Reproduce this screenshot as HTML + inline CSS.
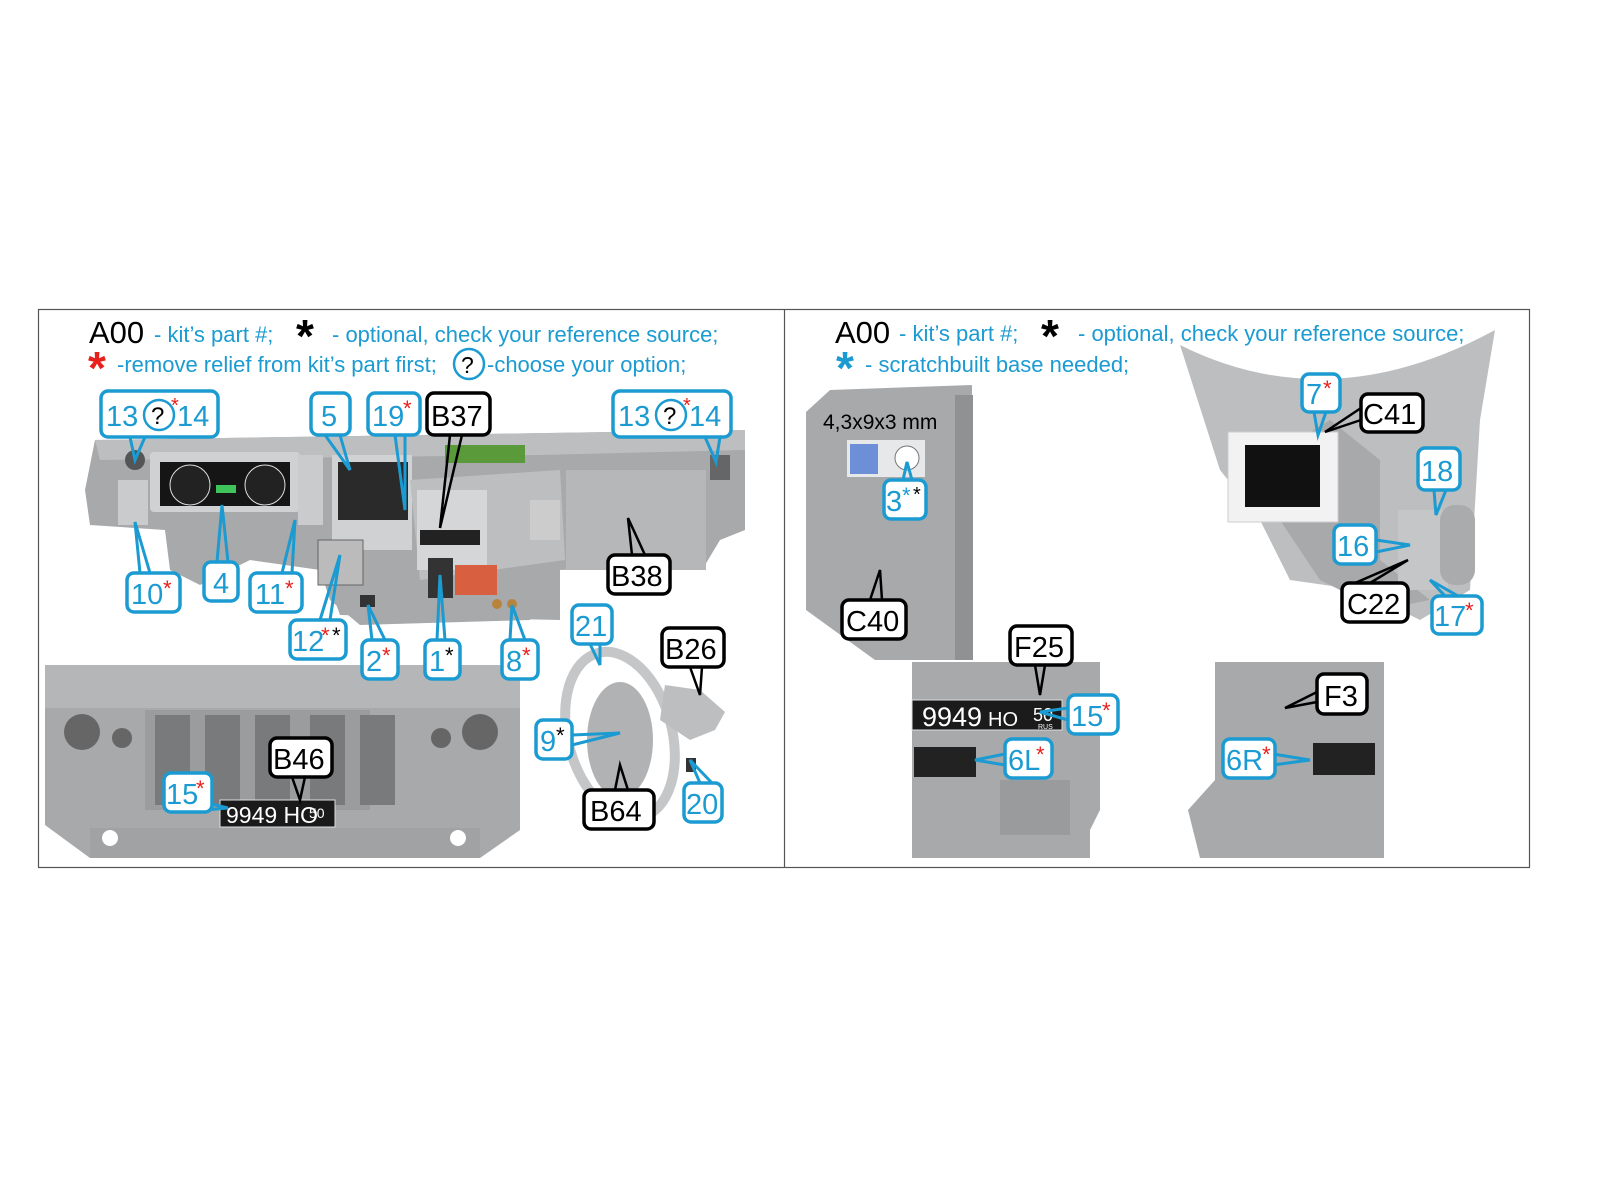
<!DOCTYPE html>
<html><head><meta charset="utf-8"><style>
html,body{margin:0;padding:0;background:#fff;}
svg{display:block;}
text{font-family:"Liberation Sans",sans-serif;}
.bl{fill:#fff;stroke:#1b9bd1;stroke-width:3.5}
.bk{fill:#fff;stroke:#000;stroke-width:3.5}
.tb{fill:#1b9bd1;font-size:29px}
.tk{fill:#000;font-size:29px}
.lb{stroke:#1b9bd1;stroke-width:3;fill:none}
.lk{stroke:#000;stroke-width:2.5;fill:none}
.r{fill:#e8201c}
.g{fill:#a7a9ab}
.g2{fill:#bcbec0}
.g3{fill:#8e9092}
</style></head><body>
<svg width="1600" height="1200" viewBox="0 0 1600 1200" xmlns="http://www.w3.org/2000/svg">
<!-- frame -->
<rect x="38.5" y="309.5" width="1491" height="558" fill="none" stroke="#555" stroke-width="1.2"/>
<line x1="784.5" y1="309" x2="784.5" y2="868" stroke="#555" stroke-width="1.2"/>

<!-- LEFT: dashboard -->
<polygon class="g" points="95,440 745,430 745,530 720,540 705,565 560,570 540,600 530,620 360,625 330,600 320,570 250,560 200,585 170,570 165,530 90,525 85,490"/>
<polygon class="g2" points="95,440 745,430 745,450 540,455 100,460"/>
<polygon class="g" points="320,560 560,560 560,620 340,615"/>
<rect x="150" y="452" width="150" height="60" rx="4" fill="#cfd1d3"/>
<rect x="160" y="462" width="130" height="44" fill="#151515"/>
<circle cx="190" cy="485" r="20" fill="#222" stroke="#ddd"/>
<circle cx="265" cy="485" r="20" fill="#222" stroke="#ddd"/>
<rect x="216" y="485" width="20" height="8" fill="#3ec45a"/>
<rect x="298" y="455" width="25" height="70" fill="#c9cbcd"/>
<rect x="118" y="480" width="30" height="45" fill="#c9cbcd"/>
<circle cx="135" cy="460" r="10" fill="#555"/>
<rect x="332" y="455" width="80" height="90" fill="#d0d2d4"/>
<rect x="338" y="462" width="70" height="60" fill="#2a2a2a"/>
<rect x="332" y="520" width="80" height="30" fill="#cfd1d3"/>
<polygon class="g2" points="410,480 560,470 565,560 420,580"/>
<rect x="417" y="490" width="70" height="80" fill="#d4d6d8"/>
<rect x="420" y="530" width="60" height="15" fill="#222"/>
<rect x="445" y="445" width="80" height="18" fill="#5a9a3a"/>
<rect x="566" y="470" width="140" height="100" fill="#b5b7b9"/>
<rect x="530" y="500" width="30" height="40" fill="#ccc"/>
<rect x="318" y="540" width="45" height="45" fill="#bbb" stroke="#666"/>
<rect x="428" y="558" width="25" height="40" fill="#333"/>
<rect x="455" y="565" width="42" height="30" fill="#d86040"/>
<rect x="360" y="595" width="15" height="12" fill="#333"/>
<circle cx="497" cy="604" r="5" fill="#b8843c"/><circle cx="512" cy="604" r="5" fill="#b8843c"/>
<rect x="710" y="455" width="20" height="25" fill="#666"/>

<!-- grille -->
<polygon class="g" points="45,675 100,665 520,665 520,830 480,858 90,858 45,825"/>
<rect x="45" y="665" width="475" height="43" fill="#b4b6b8"/>
<rect x="145" y="710" width="225" height="100" fill="#9a9c9e"/>
<g fill="#787a7c">
<rect x="155" y="715" width="35" height="90"/><rect x="205" y="715" width="35" height="90"/><rect x="255" y="715" width="35" height="90"/><rect x="310" y="715" width="35" height="90"/><rect x="360" y="715" width="35" height="90"/></g>
<circle cx="82" cy="732" r="18" fill="#666"/><circle cx="122" cy="738" r="10" fill="#666"/>
<circle cx="480" cy="732" r="18" fill="#666"/><circle cx="441" cy="738" r="10" fill="#666"/>
<rect x="90" y="828" width="390" height="30" fill="#a0a2a4"/>
<circle cx="110" cy="838" r="8" fill="#fff"/><circle cx="458" cy="838" r="8" fill="#fff"/>
<rect x="220" y="800" width="115" height="27" fill="#1a1a1a" stroke="#ddd"/>
<text x="226" y="823" fill="#fff" font-size="23">9949 HO</text>
<text x="309" y="818" fill="#fff" font-size="14">50</text>

<!-- steering wheel -->
<ellipse cx="620" cy="735" rx="52" ry="85" fill="none" stroke="#c4c6c8" stroke-width="10" transform="rotate(-15 620 735)"/>
<ellipse cx="620" cy="740" rx="33" ry="58" fill="#b0b2b4"/>
<polygon class="g2" points="665,685 700,690 725,712 715,730 690,740 660,720"/>
<rect x="686" y="758" width="10" height="14" fill="#333"/>

<!-- RIGHT: C40 -->
<polygon class="g" points="806,412 830,390 972,385 972,660 875,660 806,610"/>
<rect x="955" y="395" width="18" height="265" fill="#8f9193"/>
<rect x="847" y="440" width="78" height="37" fill="#e6e8ea"/>
<rect x="850" y="444" width="28" height="30" fill="#6d8fd8"/>
<circle cx="907" cy="458" r="12" fill="#fff" stroke="#777"/>
<!-- C41 -->
<path class="g2" d="M1180,345 Q1330,420 1495,330 L1480,420 L1470,590 L1420,620 L1360,590 L1290,580 L1260,520 L1220,470 Z"/>
<path class="g" d="M1250,470 L1330,420 L1380,460 L1380,560 L1430,600 L1380,610 L1320,580 L1280,520 Z"/>
<rect x="1228" y="432" width="110" height="90" fill="#f2f2f2" stroke="#ccc"/>
<rect x="1245" y="445" width="75" height="62" fill="#111"/>
<rect x="1398" y="510" width="50" height="80" fill="#c4c6c8"/>
<rect x="1440" y="505" width="35" height="80" rx="15" fill="#a9abad"/>
<!-- F25 -->
<polygon class="g" points="912,662 1100,662 1100,810 1090,830 1090,858 912,858"/>
<rect x="912" y="700" width="150" height="30" fill="#1b1b1b" stroke="#ddd"/>
<text x="922" y="726" fill="#fff" font-size="27">9949</text><text x="988" y="726" fill="#fff" font-size="20">HO</text>
<text x="1033" y="721" fill="#fff" font-size="18">50</text><text x="1038" y="729" fill="#fff" font-size="7">RUS</text>
<rect x="914" y="747" width="62" height="30" fill="#222"/>
<rect x="1000" y="780" width="70" height="55" fill="#999b9d"/>
<!-- F3 -->
<polygon class="g" points="1215,662 1384,662 1384,858 1200,858 1188,810 1215,780"/>
<rect x="1313" y="743" width="62" height="32" fill="#222"/>

<!-- headings -->
<text x="89" y="343" font-size="31" fill="#000">A00</text>
<text x="154" y="342" font-size="22" fill="#1b9bd1">- kit’s part #;</text>
<text x="296" y="352" font-size="46" fill="#000" font-weight="bold">*</text>
<text x="332" y="342" font-size="22" fill="#1b9bd1">- optional, check your reference source;</text>
<text x="88" y="384" font-size="46" fill="#e8201c" font-weight="bold">*</text>
<text x="117" y="372" font-size="22" fill="#1b9bd1">-remove relief from kit’s part first;</text>
<circle cx="469" cy="364" r="15" fill="none" stroke="#1b9bd1" stroke-width="2.5"/>
<text x="461" y="373" font-size="23" fill="#000">?</text>
<text x="487" y="372" font-size="22" fill="#1b9bd1">-choose your option;</text>

<text x="835" y="343" font-size="31" fill="#000">A00</text>
<text x="899" y="341" font-size="22" fill="#1b9bd1">- kit’s part #;</text>
<text x="1041" y="352" font-size="46" fill="#000" font-weight="bold">*</text>
<text x="1078" y="341" font-size="22" fill="#1b9bd1">- optional, check your reference source;</text>
<text x="836" y="384" font-size="46" fill="#1b9bd1" font-weight="bold">*</text>
<text x="865" y="372" font-size="22" fill="#1b9bd1">- scratchbuilt base needed;</text>
<text x="823" y="429" font-size="21" fill="#000">4,3x9x3 mm</text>

<!-- connectors -->
<g class="lb">
<path d="M130,437 L135,460 L145,437"/>
<path d="M705,437 L716,462 L720,437"/>
<path d="M325,435 L350,470 L340,435"/>
<path d="M395,435 L405,510 L405,435"/>
<path d="M140,573 L135,522 L150,573"/>
<path d="M217,562 L222,505 L228,562"/>
<path d="M282,573 L295,520 L292,573"/>
<path d="M320,620 L340,555 L330,620"/>
<path d="M372,640 L368,605 L385,640"/>
<path d="M437,640 L440,575 L445,640"/>
<path d="M510,640 L512,605 L525,640"/>
<path d="M590,644 L600,665 L600,644"/>
<path d="M572,735 L620,733 L572,745"/>
<path d="M195,800 L228,808 L205,810"/>
<path d="M700,783 L690,760 L712,783"/>
<path d="M903,480 L907,462 L912,480"/>
<path d="M1314,412 L1318,435 L1326,412"/>
<path d="M1434,490 L1436,515 L1446,490"/>
<path d="M1376,540 L1410,545 L1376,552"/>
<path d="M1445,596 L1430,580 L1458,596"/>
<path d="M1068,708 L1040,712 L1068,720"/>
<path d="M1005,754 L975,760 L1005,765"/>
<path d="M1273,754 L1310,760 L1273,765"/>
</g>
<g class="lk">
<path d="M450,435 L440,528 L462,435"/>
<path d="M632,555 L628,518 L645,555"/>
<path d="M690,667 L700,695 L702,667"/>
<path d="M292,777 L300,800 L305,777"/>
<path d="M615,790 L620,765 L628,790"/>
<path d="M870,600 L880,570 L882,600"/>
<path d="M1361,408 L1325,432 L1361,420"/>
<path d="M1355,583 L1408,560 L1370,583"/>
<path d="M1035,665 L1040,695 L1045,665"/>
<path d="M1317,692 L1285,708 L1317,702"/>
</g>

<!-- labels -->
<g>
<rect class="bl" x="101" y="391" width="117" height="46" rx="7"/>
<text class="tb" x="106" y="426">13</text><circle cx="159" cy="415" r="15" fill="none" stroke="#1b9bd1" stroke-width="2.5"/><text x="151" y="424" font-size="24" fill="#000">?</text><text class="tb" x="177" y="426">14</text><text x="171" y="412" font-size="20" fill="#e8201c">*</text>

<rect class="bl" x="613" y="391" width="118" height="46" rx="7"/>
<text class="tb" x="618" y="426">13</text><circle cx="671" cy="415" r="15" fill="none" stroke="#1b9bd1" stroke-width="2.5"/><text x="663" y="424" font-size="24" fill="#000">?</text><text class="tb" x="689" y="426">14</text><text x="683" y="412" font-size="20" fill="#e8201c">*</text>

<rect class="bl" x="311" y="393" width="39" height="42" rx="7"/><text class="tb" x="321" y="426">5</text>
<rect class="bl" x="368" y="393" width="52" height="42" rx="7"/><text class="tb" x="372" y="426">19</text><text x="403" y="416" font-size="22" fill="#e8201c">*</text>
<rect class="bk" x="427" y="393" width="63" height="42" rx="7"/><text class="tk" x="431" y="426">B37</text>
<rect class="bl" x="127" y="573" width="53" height="39" rx="7"/><text class="tb" x="131" y="604">10</text><text x="163" y="596" font-size="22" fill="#e8201c">*</text>
<rect class="bl" x="204" y="562" width="34" height="39" rx="7"/><text class="tb" x="213" y="593">4</text>
<rect class="bl" x="250" y="573" width="52" height="39" rx="7"/><text class="tb" x="255" y="604">11</text><text x="285" y="596" font-size="22" fill="#e8201c">*</text>
<rect class="bl" x="290" y="620" width="56" height="39" rx="7"/><text class="tb" x="292" y="651">12</text><text x="321" y="643" font-size="22" fill="#e8201c">*</text><text x="332" y="643" font-size="22" fill="#000">*</text>
<rect class="bl" x="362" y="640" width="36" height="39" rx="7"/><text class="tb" x="366" y="671">2</text><text x="382" y="663" font-size="22" fill="#e8201c">*</text>
<rect class="bl" x="425" y="640" width="35" height="39" rx="7"/><text class="tb" x="429" y="671">1</text><text x="445" y="663" font-size="22" fill="#000">*</text>
<rect class="bl" x="502" y="640" width="36" height="39" rx="7"/><text class="tb" x="506" y="671">8</text><text x="522" y="663" font-size="22" fill="#e8201c">*</text>
<rect class="bk" x="608" y="555" width="62" height="39" rx="7"/><text class="tk" x="611" y="586">B38</text>
<rect class="bl" x="572" y="605" width="40" height="39" rx="7"/><text class="tb" x="575" y="636">21</text>
<rect class="bk" x="662" y="628" width="62" height="39" rx="7"/><text class="tk" x="665" y="659">B26</text>
<rect class="bl" x="536" y="720" width="36" height="39" rx="7"/><text class="tb" x="540" y="751">9</text><text x="556" y="743" font-size="22" fill="#000">*</text>
<rect class="bk" x="270" y="738" width="62" height="39" rx="7"/><text class="tk" x="273" y="769">B46</text>
<rect class="bl" x="164" y="773" width="48" height="39" rx="7"/><text class="tb" x="166" y="804">15</text><text x="196" y="796" font-size="22" fill="#e8201c">*</text>
<rect class="bk" x="584" y="790" width="70" height="39" rx="7"/><text class="tk" x="590" y="821">B64</text>
<rect class="bl" x="684" y="783" width="38" height="39" rx="7"/><text class="tb" x="686" y="814">20</text>

<rect class="bl" x="884" y="480" width="42" height="39" rx="7"/><text class="tb" x="886" y="511">3</text><text x="902" y="503" font-size="22" fill="#1b9bd1">*</text><text x="913" y="501" font-size="20" fill="#000">*</text>
<rect class="bk" x="842" y="600" width="64" height="39" rx="7"/><text class="tk" x="846" y="631">C40</text>
<rect class="bl" x="1302" y="374" width="38" height="38" rx="7"/><text class="tb" x="1306" y="404">7</text><text x="1323" y="396" font-size="22" fill="#e8201c">*</text>
<rect class="bk" x="1361" y="394" width="62" height="38" rx="7"/><text class="tk" x="1363" y="424">C41</text>
<rect class="bl" x="1418" y="448" width="42" height="42" rx="7"/><text class="tb" x="1421" y="481">18</text>
<rect class="bl" x="1334" y="525" width="42" height="39" rx="7"/><text class="tb" x="1337" y="556">16</text>
<rect class="bk" x="1342" y="583" width="66" height="39" rx="7"/><text class="tk" x="1347" y="614">C22</text>
<rect class="bl" x="1432" y="596" width="50" height="38" rx="7"/><text class="tb" x="1434" y="626">17</text><text x="1465" y="618" font-size="22" fill="#e8201c">*</text>
<rect class="bk" x="1010" y="626" width="62" height="39" rx="7"/><text class="tk" x="1014" y="657">F25</text>
<rect class="bl" x="1068" y="695" width="50" height="39" rx="7"/><text class="tb" x="1071" y="726">15</text><text x="1102" y="718" font-size="22" fill="#e8201c">*</text>
<rect class="bl" x="1005" y="739" width="47" height="39" rx="7"/><text class="tb" x="1008" y="770">6L</text><text x="1036" y="762" font-size="22" fill="#e8201c">*</text>
<rect class="bl" x="1223" y="739" width="52" height="39" rx="7"/><text class="tb" x="1226" y="770">6R</text><text x="1262" y="762" font-size="22" fill="#e8201c">*</text>
<rect class="bk" x="1317" y="674" width="50" height="40" rx="7"/><text class="tk" x="1324" y="706">F3</text>
</g>
</svg>
</body></html>
